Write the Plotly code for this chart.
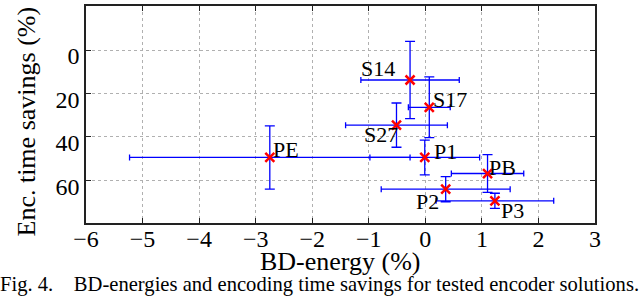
import plotly.graph_objects as go

# ---- data ----
names = ["S14", "S17", "S27", "PE", "P1", "PB", "P2", "P3"]
bd_energy = [-0.27, 0.07, -0.51, -2.75, -0.01, 1.10, 0.36, 1.23]
time_savings = [13.8, 26.4, 34.6, 49.5, 49.5, 56.9, 64.1, 69.5]
bd_energy_err = [0.87, 0.37, 0.90, 2.48, 0.97, 0.64, 1.14, 1.04]
time_savings_err = [17.8, 14.0, 10.2, 14.6, 8.0, 8.7, 5.8, 3.5]
label_x = [-1.16, 0.11, -1.10, -2.72, 0.13, 1.11, -0.18, 1.32]
label_y = [8.4, 23.0, 39.0, 45.7, 46.6, 54.2, 69.9, 74.0]

x_ticks = [-6, -5, -4, -3, -2, -1, 0, 1, 2, 3]
y_ticks = [0, 20, 40, 60]

x_title = "BD-energy (%)"
y_title = "Enc. time savings (%)"
caption = "Fig. 4.\u00a0\u00a0\u00a0 BD-energies and encoding time savings for tested encoder solutions."

SERIF = "Liberation Serif"

fig = go.Figure()
fig.add_trace(go.Scatter(
    x=bd_energy, y=time_savings, mode="markers",
    marker=dict(symbol="x-thin", size=9, line=dict(color="#ff0000", width=2.5), color="#ff0000"),
    error_x=dict(type="data", array=bd_energy_err, visible=True, color="#0000ff", thickness=1.3, width=3),
    error_y=dict(type="data", array=time_savings_err, visible=True, color="#0000ff", thickness=1.3, width=5),
    showlegend=False,
))

for n, lx, ly in zip(names, label_x, label_y):
    fig.add_annotation(x=lx, y=ly, text=n, showarrow=False, xanchor="left", yanchor="middle",
                       font=dict(family=SERIF, size=22, color="#000"), borderpad=0)

axis_common = dict(
    showline=True, linecolor="#222", linewidth=1.5, mirror="ticks",
    ticks="inside", ticklen=5, tickwidth=1, tickcolor="#222",
    showgrid=True, gridcolor="#b0b0b0", griddash="dot", gridwidth=1,
    zeroline=False, automargin=False,
    tickfont=dict(family=SERIF, size=24, color="#000"),
)

fig.update_xaxes(range=[-6, 3], tickmode="array", tickvals=x_ticks, ticklabelstandoff=-7, **axis_common)
fig.update_yaxes(range=[79.7, -20.3], tickmode="array", tickvals=y_ticks, ticklabelshift=-6, **axis_common)

fig.add_annotation(xref="paper", yref="paper", x=0.5, y=0, yshift=-38.5, text=x_title, showarrow=False,
                   xanchor="center", yanchor="middle", font=dict(family=SERIF, size=26, color="#000"))
fig.add_annotation(xref="paper", yref="paper", x=0, xshift=-60, y=0.5, yshift=-7, text=y_title, showarrow=False,
                   textangle=-90, xanchor="center", yanchor="middle", font=dict(family=SERIF, size=26, color="#000"))
fig.add_annotation(xref="paper", yref="paper", x=0, xshift=233.5, y=0, yshift=-61, text=caption, showarrow=False,
                   xanchor="center", yanchor="middle", font=dict(family=SERIF, size=20.6, color="#000"))

fig.update_layout(
    width=640, height=296,
    margin=dict(l=86, r=45, t=6, b=73),
    paper_bgcolor="white", plot_bgcolor="white",
)

fig.write_html("out.html", config={"displayModeBar": False},
               post_script="document.body.style.margin='0';")
